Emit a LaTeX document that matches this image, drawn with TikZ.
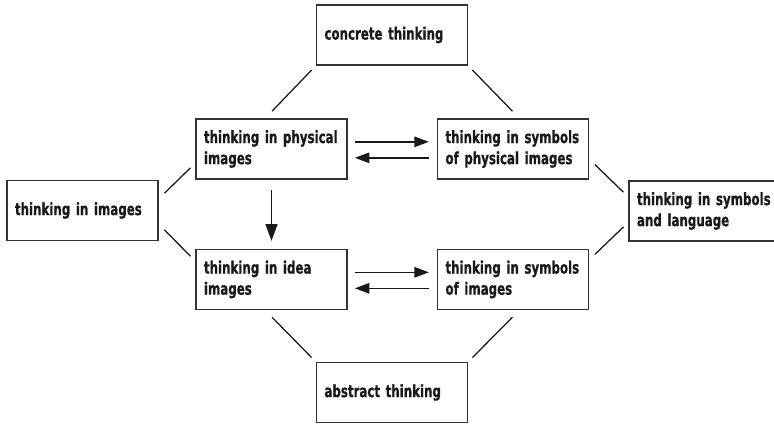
\documentclass[tikz,border=0pt]{standalone}
\usepackage{fontspec}
\setmainfont{DejaVu Sans}[FakeStretch=0.7, BoldFeatures={FakeBold=0.8}]
\usepackage{tikz}
\usetikzlibrary{arrows.meta}

\tikzset{
  thinkbox/.style = {draw = black!80, line width = 0.9pt, shape = rectangle, minimum width = 3.775cm, minimum height = 1.5cm, text width = 3.375cm, inner xsep = 0.2cm, align = left, text = black!90, font = \bfseries\fontsize{12}{15}\selectfont},
  link/.style = {line width = 0.9pt, black!90},
  flow/.style = {line width = 1pt, black!90, -{Triangle[length = 0.36cm, width = 0.26cm]}},
}

\begin{document}
\begin{tikzpicture}[x = 0.025cm, y = -0.025cm]
\clip (0,0) rectangle (774,424);
\node[thinkbox] (concrete) at (392,35) {concrete thinking};
\node[thinkbox] (phys) at (271.5,149) {thinking in physical\\images};
\node[thinkbox] (symphys) at (513,149) {thinking in symbols\\of physical images};
\node[thinkbox] (images) at (82.5,210.5) {thinking in images};
\node[thinkbox] (symlang) at (704.5,211) {thinking in symbols\\and language};
\node[thinkbox] (idea) at (271.5,279.5) {thinking in idea\\images};
\node[thinkbox] (symimg) at (513,279.5) {thinking in symbols\\of images};
\node[thinkbox] (abstract) at (392,392.5) {abstract thinking};

\begin{scope}[link, shorten <= 0.15cm, shorten >= 0.25cm]
\draw (concrete.south west) -- ([xshift = -0.16cm]phys.north);
\draw (concrete.south east) -- ([xshift = 0.16cm]symphys.north);
\draw (abstract.north west) -- ([xshift = -0.16cm]idea.south);
\draw (abstract.north east) -- ([xshift = 0.16cm]symimg.south);
\end{scope}
\begin{scope}[link, shorten <= 0.2cm, shorten >= 0.17cm]
\draw ([yshift = 0.29cm]images.east) -- ([yshift = -0.35cm]phys.west);
\draw ([yshift = -0.34cm]images.east) -- ([yshift = 0.46cm]idea.west);
\draw ([yshift = -0.25cm]symphys.east) -- ([yshift = 0.35cm]symlang.west);
\draw ([yshift = 0.49cm]symimg.east) -- ([yshift = -0.28cm]symlang.west);
\end{scope}

\draw[flow, shorten <= 0.18cm, shorten >= 0.2cm] ([yshift = 0.18cm]phys.east) -- ([yshift = 0.18cm]symphys.west);
\draw[flow, shorten <= 0.2cm, shorten >= 0.18cm] ([yshift = -0.22cm]symphys.west) -- ([yshift = -0.22cm]phys.east);
\draw[flow, shorten <= 0.18cm, shorten >= 0.2cm] ([yshift = 0.18cm]idea.east) -- ([yshift = 0.18cm]symimg.west);
\draw[flow, shorten <= 0.2cm, shorten >= 0.18cm] ([yshift = -0.22cm]symimg.west) -- ([yshift = -0.22cm]idea.east);
\draw[flow, shorten <= 0.25cm, shorten >= 0.2cm, -{Triangle[length = 0.42cm, width = 0.3cm]}] (phys.south) -- (idea.north);
\end{tikzpicture}
\end{document}
